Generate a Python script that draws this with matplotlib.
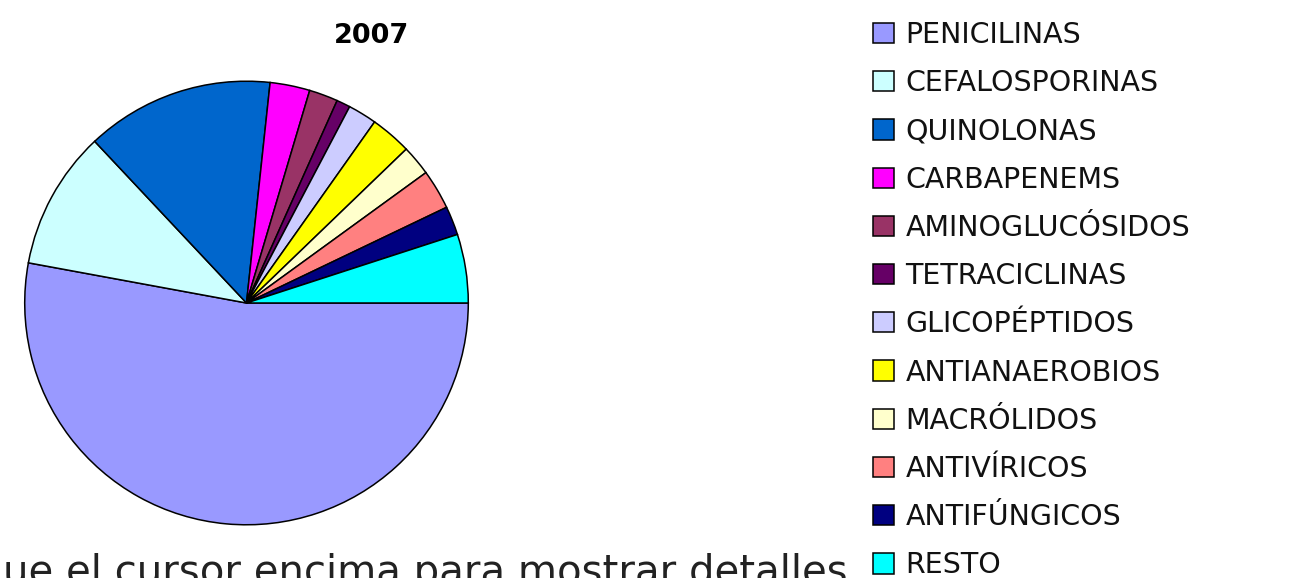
import matplotlib
matplotlib.use("Agg")
import matplotlib.pyplot as plt

# Data (shares, in %)
categories = ["PENICILINAS", "CEFALOSPORINAS", "QUINOLONAS", "CARBAPENEMS",
              "AMINOGLUCÓSIDOS", "TETRACICLINAS", "GLICOPÉPTIDOS", "ANTIANAEROBIOS",
              "MACRÓLIDOS", "ANTIVÍRICOS", "ANTIFÚNGICOS", "RESTO"]
values = [52.9, 10.1, 13.7, 2.9, 2.1, 1.0, 2.1, 3.0, 2.2, 2.9, 2.1, 5.0]
colors = ["#9999FF", "#CCFFFF", "#0066CC", "#FF00FF", "#993366", "#660066",
          "#CCCCFF", "#FFFF00", "#FFFFCC", "#FF8080", "#000080", "#00FFFF"]
title = "2007"
footer = "ue el cursor encima para mostrar detalles"

W, H = 1289, 578
fig = plt.figure(figsize=(W / 100, H / 100), dpi=100)
fig.patch.set_facecolor("white")

cx, cy, r = 246.5, 303, 224
ax = fig.add_axes([(cx - r) / W, (H - cy - r) / H, 2 * r / W, 2 * r / H])
wedges, _ = ax.pie(values, colors=colors, startangle=0, counterclock=False,
                   radius=1.0,
                   wedgeprops=dict(edgecolor="black", linewidth=1.1))
ax.set_xlim(-1.01, 1.01)
ax.set_ylim(-1.01, 1.01)
ax.set_aspect("equal")
ax.axis("off")

fig.text(372 / W, 1 - 36 / H, title, ha="center", va="center",
         fontsize=19.5, fontweight="bold", color="black")

fs = 20.5
leg = fig.legend(wedges, categories, loc="upper left",
                 bbox_to_anchor=(873 / W, 1 - 21 / H),
                 frameon=False, fontsize=fs, borderpad=0, borderaxespad=0,
                 handlelength=0.72, handleheight=0.72, handletextpad=0.42,
                 labelspacing=0.71)
for t in leg.get_texts():
    t.set_color("#111111")

fig.text(3 / W, -6 / H, footer, ha="left", va="baseline", fontsize=29,
         color="#222222")

fig.savefig("out.png", dpi=100, facecolor="white")
